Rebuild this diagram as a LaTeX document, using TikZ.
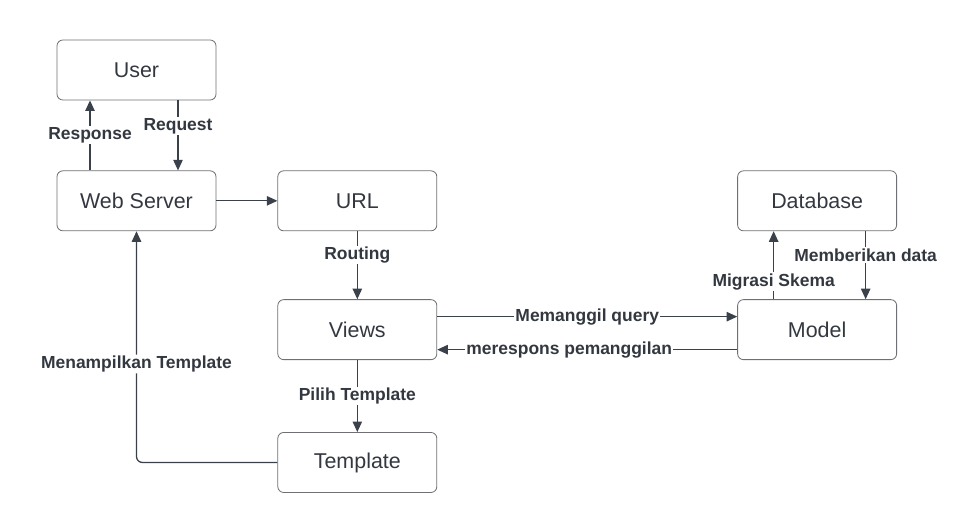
\documentclass[tikz,border=0pt]{standalone}
\usepackage{fontspec}
\setmainfont{Liberation Sans}
\usepackage{tikz}
\usetikzlibrary{arrows.meta, positioning}

\definecolor{linegray}{HTML}{3A414B}
\definecolor{boxgray}{HTML}{6E7073}
\definecolor{textgray}{HTML}{333840}

\begin{document}
\begin{tikzpicture}[
    node distance=2cm,
    box/.style={rectangle, rounded corners=5pt, minimum width=4.77cm, minimum height=1.8cm, text centered, draw=boxgray, line width=0.7pt, text=textgray, font=\fontsize{18.3}{22}\selectfont},
    arrow/.style={draw=linegray, line width=1.1pt, -{Triangle[length=9pt,width=8pt]}},
    lbl/.style={fill=white, inner sep=1pt, text=textgray, font=\fontsize{14.9}{18}\selectfont\bfseries}
]
\useasboundingbox (-4.095,2.1) rectangle (25.185,-13.8);

% Nodes
\node (user) [box] {User};
\node (web) [box, below=2.1cm of user] {Web Server};
\node (url) [box, right=1.83cm of web] {URL};
\node (views) [box, below=2.04cm of url] {Views};
\node (template) [box, below=2.16cm of views] {Template};
\node (model) [box, right=9cm of views] {Model};
\node (db) [box, above=2.04cm of model] {Database};

% Arrows
\draw [arrow] ([xshift=-1.395cm]web.north) -- node[lbl] {Response} ([xshift=-1.395cm]user.south);
\draw [arrow] ([xshift=1.245cm]user.south) -- node[lbl, pos=0.37] {Request} ([xshift=1.245cm]web.north);
\draw [arrow] (web) -- (url);
\draw [arrow] (url) -- node[lbl, pos=0.35] {Routing} (views);
\draw [arrow] ([yshift=0.39cm]views.east) -- node[lbl] {Memanggil query} ([yshift=0.39cm]model.west);
\draw [arrow] ([yshift=-0.6cm]model.west) -- node[lbl, pos=0.56] {merespons pemanggilan} ([yshift=-0.6cm]views.east);
\draw [arrow] ([xshift=-1.305cm]model.north) -- node[lbl, pos=0.26] {Migrasi Skema} ([xshift=-1.305cm]db.south);
\draw [arrow] ([xshift=1.455cm]db.south) -- node[lbl, pos=0.35] {Memberikan data} ([xshift=1.455cm]model.north);
\draw [arrow] (views) -- node[lbl] {Pilih Template} (template);
\draw [arrow, rounded corners=5pt] (template.west) -| node[lbl, pos=0.713] {Menampilkan Template} (web.south);

\end{tikzpicture}
\end{document}
